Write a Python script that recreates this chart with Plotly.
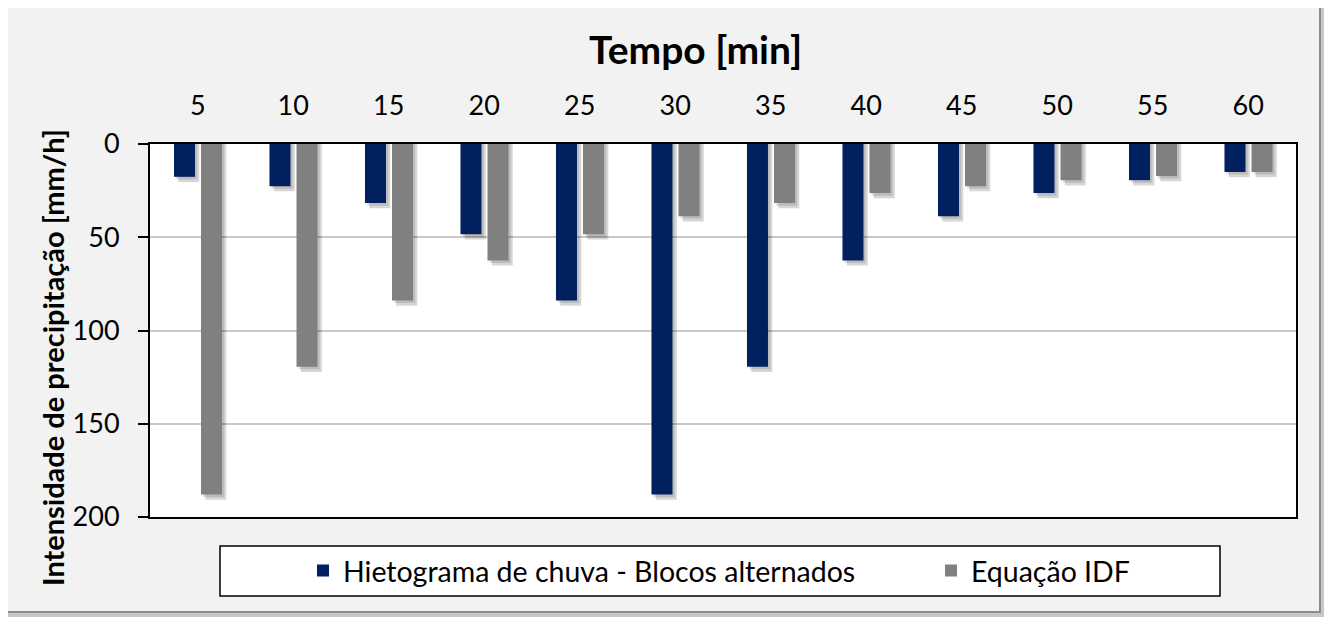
import plotly.graph_objects as go

# tempo [min]
tempos = ["5", "10", "15", "20", "25", "30", "35", "40", "45", "50", "55", "60"]
# hietograma - blocos alternados [mm/h]
blocos = [17.6, 22.6, 31.7, 48.4, 83.9, 188.0, 119.4, 62.4, 38.7, 26.3, 19.4, 15.0]
# equacao IDF [mm/h]
idf = [188.0, 119.4, 83.9, 62.4, 48.4, 38.7, 31.7, 26.3, 22.6, 19.4, 17.2, 15.0]

fonte = "Lato"
azul = "#002060"
cinza = "#808080"

# a pagina tem margem de 8px no body
B = 8
W, H = 1332 - B, 621 - B
ml, mr, mt, mb = 150 - B, 36, 144 - B, 104
pw, ph = W - ml - mr, H - mt - mb

def px2x(p):
    return (p - B - ml) / pw

def px2y(p):
    return (H - mb - (p - B)) / ph

larg = 0.22
desl_azul = -0.249
desl_cinza = 0.034
sombra_x = 0.045
sombra_y = 2.8

fig = go.Figure()

# sombras
for vals, off in [(blocos, desl_azul), (idf, desl_cinza)]:
    fig.add_trace(go.Bar(x=tempos, y=[v + sombra_y for v in vals], width=larg, offset=off + sombra_x,
                         marker=dict(color="rgba(0,0,0,0.16)", line=dict(width=0)),
                         showlegend=False, hoverinfo="skip"))
    fig.add_trace(go.Bar(x=tempos, y=[v + sombra_y / 2 for v in vals], width=larg, offset=off + sombra_x / 2,
                         marker=dict(color="rgba(0,0,0,0.12)", line=dict(width=0)),
                         showlegend=False, hoverinfo="skip"))

fig.add_trace(go.Bar(x=tempos, y=blocos, width=larg, offset=desl_azul, name="Hietograma de chuva - Blocos alternados",
                     marker=dict(color=azul, line=dict(width=0)), legend="legend"))
fig.add_trace(go.Bar(x=tempos, y=idf, width=larg, offset=desl_cinza, name="Equação IDF",
                     marker=dict(color=cinza, line=dict(width=0)), legend="legend2"))

shapes = [
    # sombra da moldura
    dict(type="rect", xref="paper", yref="paper", layer="below",
         x0=px2x(8), x1=px2x(1325), y0=px2y(617), y1=px2y(8),
         fillcolor="#c8c8c8", line=dict(width=0)),
    # moldura
    dict(type="rect", xref="paper", yref="paper", layer="below",
         x0=px2x(5), x1=px2x(1320), y0=px2y(612), y1=px2y(5),
         fillcolor="#f2f2f2", line=dict(color="#8c8c8c", width=2)),
    # area do grafico
    dict(type="rect", xref="paper", yref="paper", layer="below",
         x0=0, x1=1, y0=0, y1=1, fillcolor="white", line=dict(width=0)),
    # caixa da legenda
    dict(type="rect", xref="paper", yref="paper", layer="below",
         x0=px2x(220), x1=px2x(1220), y0=px2y(596), y1=px2y(546),
         fillcolor="white", line=dict(color="black", width=1.5)),
]

annotations = [
    dict(text="<b>Tempo [min]</b>", xref="paper", yref="paper", x=px2x(695), y=px2y(49),
         xanchor="center", yanchor="middle", showarrow=False, font=dict(size=39, family=fonte)),
    dict(text="<b>Intensidade de precipitação [mm/h]</b>", xref="paper", yref="paper",
         x=px2x(52), y=px2y(358), xanchor="center", yanchor="middle", textangle=-90,
         showarrow=False, font=dict(size=29, family=fonte)),
]

leg = dict(orientation="h", xanchor="left", y=px2y(571), yanchor="middle",
           bgcolor="rgba(0,0,0,0)", font=dict(size=28.5), itemwidth=30)

fig.update_layout(
    width=W, height=H,
    margin=dict(l=ml, r=mr, t=mt, b=mb),
    barmode="overlay",
    paper_bgcolor="white",
    plot_bgcolor="rgba(0,0,0,0)",
    font=dict(family=fonte, size=27, color="black"),
    shapes=shapes,
    annotations=annotations,
    legend=dict(leg, x=px2x(303)),
    legend2=dict(leg, x=px2x(931)),
    xaxis=dict(side="top", type="category", showline=True, linecolor="black", linewidth=2, mirror=True,
               ticks="", showgrid=False, tickfont=dict(size=27), automargin=False, ticklabelstandoff=16),
    yaxis=dict(range=[200, 0], tickvals=[0, 50, 100, 150, 200], showline=True, linecolor="black", linewidth=2,
               mirror=True, ticks="outside", ticklen=10, tickwidth=2, tickcolor="black", automargin=False,
               ticklabelstandoff=13,
               showgrid=True, gridcolor="#c8c8c8", gridwidth=1.5, zeroline=False, tickfont=dict(size=27)),
)

fig.write_html("out.html")
